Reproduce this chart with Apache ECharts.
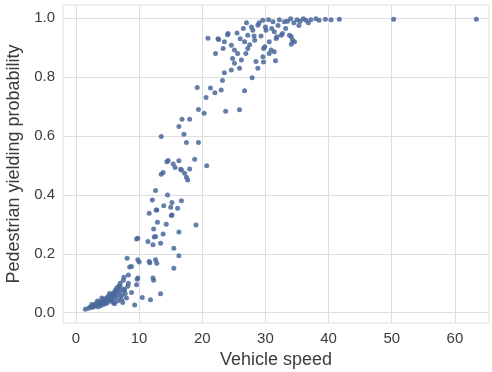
<!DOCTYPE html>
<html>
<head>
<meta charset="utf-8">
<script src="https://cdn.jsdelivr.net/npm/echarts@6/dist/echarts.min.js"></script>
<style>
  html, body { margin: 0; padding: 0; background: #ffffff; }
  #chart { width: 492px; height: 372px; }
</style>
</head>
<body>
<div id="chart"></div>
<script>
// Vehicle speed vs. pedestrian yielding probability, one point per observation
const speed = [
  // slow vehicles
  1.5, 2.0, 2.3, 2.6, 2.8, 3.0, 3.1, 3.3, 3.5, 3.6, 3.8, 3.9, 4.0, 4.2, 4.3, 4.4, 4.5, 4.7, 4.8, 4.9,
  5.0, 5.1, 5.2, 5.4, 5.5, 5.6, 5.7, 5.8, 5.9, 6.0, 6.1, 6.2, 6.3, 6.4, 6.5, 6.6, 6.7, 6.8, 6.9, 7.0,
  7.1, 7.2, 7.3, 7.5, 7.6, 7.8, 8.0, 8.2, 3.4, 2.5, 4.1, 5.3, 6.1, 7.4, 7.0, 7.7,
  // transition zone
  8.1, 8.5, 8.8, 8.3, 8.3, 8.8, 9.3, 9.6, 9.7, 9.6, 9.8, 9.8, 10.0, 10.5, 11.4, 11.6, 11.7, 11.8, 12.2, 12.3,
  12.2, 12.4, 12.6, 12.6, 12.8, 13.4, 13.4, 13.8, 12.3, 12.9, 14.3, 11.6, 12.8, 13.9, 12.6, 14.5, 15.2, 16.7, 16.1, 15.2,
  15.0, 16.3, 15.5, 16.3, 15.5, 19.0, 12.1, 12.7, 15.1, 9.8, 7.6,
  13.8, 13.5, 14.4, 14.6, 15.4, 15.7, 16.3, 16.6, 16.7, 17.2, 17.5, 17.7, 18.0, 18.8, 20.7, 13.5, 17.1, 17.5, 19.4, 16.3,
  16.8, 18.0,
  // fast vehicles
  19.4, 20.3, 23.7, 25.9, 20.6, 19.2, 21.3, 22.0, 23.0, 26.7, 23.2, 27.9, 23.5, 24.6, 28.8, 25.9, 24.8, 25.1, 29.7, 31.6,
  26.2, 28.5, 22.1, 25.6, 30.6, 26.9, 31.4, 29.6, 25.1, 30.9, 23.3, 29.7, 27.2, 24.6, 29.9, 34.1, 20.9, 22.6, 22.5, 23.5,
  26.7, 30.6, 34.6, 28.3, 34.3, 31.7, 34.1, 24.1, 27.2, 32.5, 33.8, 31.8, 28.0, 30.1, 31.4, 32.7, 28.8, 29.6, 31.2, 33.0,
  26.0, 27.5, 28.2, 25.5, 26.5, 27.8, 29.0, 30.0, 30.5, 32.0, 32.2, 33.5, 34.0, 34.5, 35.0, 35.5, 36.0, 36.4, 37.2, 38.0,
  38.5, 39.5, 40.4, 41.7, 35.3, 36.8, 33.2, 24.0, 27.0, 29.3, 31.0, 50.3, 63.4
];
const yielding = [
  0.012, 0.015, 0.020, 0.018, 0.025, 0.022, 0.030, 0.027, 0.020, 0.035, 0.030, 0.024, 0.040, 0.033, 0.028, 0.045, 0.038, 0.030, 0.050, 0.042,
  0.035, 0.055, 0.047, 0.040, 0.060, 0.052, 0.045, 0.065, 0.035, 0.058, 0.070, 0.050, 0.078, 0.062, 0.085, 0.040, 0.070, 0.090, 0.055, 0.100,
  0.075, 0.045, 0.060, 0.110, 0.080, 0.065, 0.050, 0.090, 0.040, 0.028, 0.050, 0.065, 0.030, 0.035, 0.089, 0.078,
  0.185, 0.155, 0.157, 0.128, 0.100, 0.069, 0.026, 0.095, 0.114, 0.250, 0.253, 0.180, 0.172, 0.052, 0.242, 0.174, 0.170, 0.044, 0.118, 0.110,
  0.231, 0.257, 0.259, 0.180, 0.168, 0.236, 0.064, 0.267, 0.284, 0.307, 0.300, 0.338, 0.349, 0.363, 0.415, 0.400, 0.374, 0.380, 0.355, 0.332,
  0.358, 0.274, 0.219, 0.193, 0.151, 0.298, 0.383, 0.349, 0.330, 0.118, 0.120,
  0.476, 0.470, 0.513, 0.517, 0.505, 0.493, 0.516, 0.487, 0.485, 0.474, 0.460, 0.451, 0.488, 0.521, 0.499, 0.598, 0.606, 0.578, 0.578, 0.632,
  0.657, 0.657,
  0.690, 0.677, 0.684, 0.689, 0.731, 0.765, 0.763, 0.747, 0.756, 0.754, 0.789, 0.798, 0.815, 0.824, 0.830, 0.830, 0.863, 0.847, 0.851, 0.856,
  0.858, 0.853, 0.880, 0.880, 0.880, 0.880, 0.886, 0.869, 0.892, 0.892, 0.897, 0.897, 0.897, 0.908, 0.903, 0.912, 0.932, 0.928, 0.930, 0.920,
  0.920, 0.920, 0.920, 0.925, 0.925, 0.931, 0.937, 0.948, 0.942, 0.942, 0.942, 0.937, 0.959, 0.959, 0.954, 0.948, 0.976, 0.993, 0.988, 0.988,
  0.930, 0.910, 0.940, 0.950, 0.965, 0.970, 0.985, 0.970, 0.995, 0.975, 0.995, 0.990, 0.998, 0.985, 0.995, 0.990, 0.998, 0.993, 0.995, 0.998,
  0.993, 0.997, 0.995, 0.997, 0.975, 0.985, 0.965, 0.944, 0.985, 0.940, 0.965, 0.997, 0.997
];
const speedTicks = [0, 10, 20, 30, 40, 50, 60];
const probTicks = [0, 0.2, 0.4, 0.6, 0.8, 1.0];

const points = speed.map((s, i) => [s, yielding[i]]);

const chart = echarts.init(document.getElementById('chart'), null, { renderer: 'canvas' });
const gridColor = '#dedede';
const textColor = '#3b3b3b';
const fontFamily = '"Liberation Sans", Arial, sans-serif';

chart.setOption({
  animation: false,
  backgroundColor: '#ffffff',
  grid: {
    left: 63, right: 3, top: 5, bottom: 49,
    outerBoundsMode: 'none',
    containLabel: false,
    show: true, borderColor: gridColor, borderWidth: 1
  },
  xAxis: {
    type: 'value',
    min: -2.05, max: 65.4,
    name: 'Vehicle speed',
    nameLocation: 'middle',
    nameGap: 25,
    nameTextStyle: { color: textColor, fontSize: 18, fontFamily },
    axisLine: { show: false },
    axisTick: { show: false, customValues: speedTicks },
    axisLabel: {
      customValues: speedTicks, color: textColor, fontSize: 15, fontFamily, margin: 8
    },
    splitLine: { show: true, lineStyle: { color: gridColor, width: 1 } }
  },
  yAxis: {
    type: 'value',
    min: -0.035, max: 1.045,
    name: 'Pedestrian yielding probability',
    nameLocation: 'middle',
    nameGap: 37,
    nameTextStyle: { color: textColor, fontSize: 18, fontFamily },
    axisLine: { show: false },
    axisTick: { show: false, customValues: probTicks },
    axisLabel: {
      customValues: probTicks, color: textColor, fontSize: 15, fontFamily, margin: 8,
      formatter: v => v.toFixed(1)
    },
    splitLine: { show: true, lineStyle: { color: gridColor, width: 1 } }
  },
  series: [{
    type: 'scatter',
    data: points,
    symbolSize: 5,
    itemStyle: { color: '#4a679b', opacity: 0.85 }
  }]
});
</script>
</body>
</html>
